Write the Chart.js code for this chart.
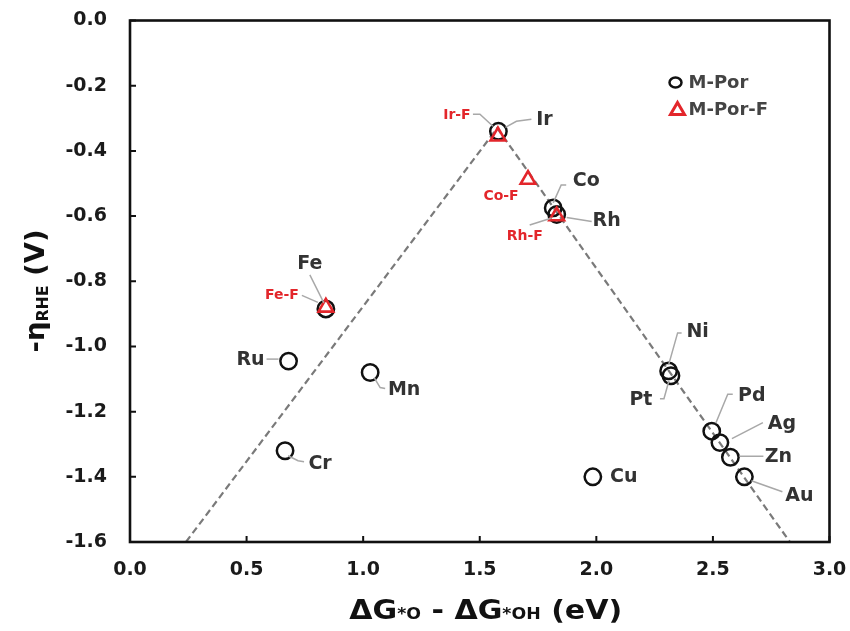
<!DOCTYPE html>
<html>
<head>
<meta charset="utf-8">
<script src="https://cdn.jsdelivr.net/npm/chart.js@4.4.1/dist/chart.umd.min.js"></script>
<style>
  html, body { margin: 0; padding: 0; background: #fff; }
  canvas { display: block; }
</style>
</head>
<body>
<canvas id="chart" width="850" height="631"></canvas>
<script>
// M-Por (open circles)
const porNames = ["Ir", "Co", "Rh", "Fe", "Ru", "Mn", "Cr", "Cu", "Ni", "Pt", "Pd", "Ag", "Zn", "Au"];
const porX = [1.58, 1.815, 1.83, 0.84, 0.68, 1.03, 0.665, 1.985, 2.31, 2.32, 2.495, 2.53, 2.575, 2.635];
const porY = [-0.34, -0.575, -0.595, -0.885, -1.045, -1.08, -1.32, -1.40, -1.075, -1.09, -1.26, -1.295, -1.34, -1.40];

// M-Por-F (red triangles)
const fNames = ["Ir-F", "Co-F", "Rh-F", "Fe-F"];
const fX = [1.578, 1.707, 1.83, 0.84];
const fY = [-0.355, -0.488, -0.60, -0.88];

// volcano (dashed)
const volX = [0.24, 1.575, 2.83];
const volY = [-1.6, -0.33, -1.6];

const xTicks = [0, 0.5, 1.0, 1.5, 2.0, 2.5, 3.0];
const yTicks = [0, -0.2, -0.4, -0.6, -0.8, -1.0, -1.2, -1.4, -1.6];

const RED = "#e3262b";
const FONT = "'DejaVu Sans', 'Liberation Sans', Arial, sans-serif";

// label text offset (t) and leader polyline (l), in px from the marker
const labelPos = {
  "Ir":   { t: [46, -11], l: [[7, -4], [18, -10], [33, -12]] },
  "Co":   { t: [33, -27], l: [[13, -23], [8, -23], [0, -5]] },
  "Rh":   { t: [50, 7],   l: [[10, 3], [35, 7]] },
  "Fe":   { t: [-16, -45], l: [[-16, -34], [-2, -6]] },
  "Ru":   { t: [-38, -1], l: [[-22, -2], [-10, -2]] },
  "Mn":   { t: [34, 18],  l: [[4, 5], [10, 15], [15, 16]] },
  "Cr":   { t: [35, 13],  l: [[3, 5], [13, 10], [19, 11]] },
  "Cu":   { t: [31, 0] },
  "Ni":   { t: [29, -39], l: [[13, -38], [9, -38], [0, -6]] },
  "Pt":   { t: [-30, 24], l: [[-11, 23], [-7, 23], [-2, 5]] },
  "Pd":   { t: [40, -35], l: [[21, -37], [16, -37], [4, -8]] },
  "Ag":   { t: [62, -19], l: [[43, -20], [12, -4]] },
  "Zn":   { t: [48, 0],   l: [[33, -1], [9, -1]] },
  "Au":   { t: [55, 19],  l: [[38, 15], [7, 4]] },
  "Ir-F": { t: [-41, -21], l: [[-25, -22], [-18, -22], [-5, -10]] },
  "Co-F": { t: [-27, 17] },
  "Rh-F": { t: [-32, 20], l: [[-27, 9], [-5, 2]] },
  "Fe-F": { t: [-44, -12], l: [[-24, -12], [-8, -5]] }
};

const toPts = (xs, ys) => xs.map((v, i) => ({ x: v, y: ys[i] }));

// draws a run of text pieces of different sizes, centred at (cx, cy), stretched to width w
function drawRich(ctx, parts, cx, cy, w, rot) {
  ctx.save();
  let total = 0;
  parts.forEach(p => { ctx.font = p.f; p.w = ctx.measureText(p.s).width; total += p.w; });
  ctx.translate(cx, cy);
  if (rot) ctx.rotate(rot);
  ctx.scale(w / total, 1);
  ctx.textBaseline = "alphabetic";
  ctx.textAlign = "left";
  ctx.fillStyle = "#111";
  let x = -total / 2;
  parts.forEach(p => { ctx.font = p.f; ctx.fillText(p.s, x, p.dy || 0); x += p.w; });
  ctx.restore();
}

const annotations = {
  id: "annotations",
  afterDatasetsDraw(chart) {
    const { ctx, scales: { x, y } } = chart;
    const draw = (names, xs, ys, color, font) => {
      names.forEach((n, i) => {
        const px = x.getPixelForValue(xs[i]);
        const py = y.getPixelForValue(ys[i]);
        const p = labelPos[n];
        if (p.l) {
          ctx.strokeStyle = "#a8a8a8";
          ctx.lineWidth = 1.5;
          ctx.beginPath();
          p.l.forEach(([dx, dy], k) => k ? ctx.lineTo(px + dx, py + dy) : ctx.moveTo(px + dx, py + dy));
          ctx.stroke();
        }
        ctx.font = font;
        ctx.fillStyle = color;
        ctx.textAlign = "center";
        ctx.textBaseline = "middle";
        ctx.fillText(n, px + p.t[0], py + p.t[1]);
      });
    };
    ctx.save();
    draw(porNames, porX, porY, "#333", "bold 19px " + FONT);
    draw(fNames, fX, fY, RED, "bold 14px " + FONT);
    ctx.restore();
  },
  afterDraw(chart) {
    const { ctx, chartArea: a, scales: { x, y } } = chart;
    ctx.save();
    // frame + inward ticks
    ctx.strokeStyle = "#111";
    ctx.lineWidth = 2.6;
    ctx.strokeRect(a.left, a.top, a.right - a.left, a.bottom - a.top);
    ctx.lineWidth = 2;
    ctx.beginPath();
    xTicks.forEach(v => { const px = x.getPixelForValue(v); ctx.moveTo(px, a.bottom); ctx.lineTo(px, a.bottom - 6); });
    yTicks.forEach(v => { const py = y.getPixelForValue(v); ctx.moveTo(a.left, py); ctx.lineTo(a.left + 6, py); });
    ctx.stroke();

    // legend
    const lx = a.right - 154, ly = a.top + 62;
    ctx.strokeStyle = "#111";
    ctx.lineWidth = 2.5;
    ctx.beginPath();
    ctx.ellipse(lx, ly, 6, 5, 0, 0, Math.PI * 2);
    ctx.stroke();
    ctx.strokeStyle = RED;
    ctx.lineWidth = 3;
    ctx.beginPath();
    ctx.moveTo(lx + 2, ly + 20);
    ctx.lineTo(lx + 9, ly + 32);
    ctx.lineTo(lx - 5, ly + 32);
    ctx.closePath();
    ctx.stroke();
    ctx.fillStyle = "#444";
    ctx.font = "bold 18px " + FONT;
    ctx.textAlign = "left";
    ctx.textBaseline = "middle";
    ctx.fillText(chart.data.datasets[1].label, lx + 13, ly + 1);
    ctx.fillText(chart.data.datasets[0].label, lx + 13, ly + 28);
    ctx.restore();

    // axis titles
    const big = "bold 26px " + FONT, small = "bold 15px " + FONT;
    drawRich(ctx, [
      { s: "ΔG", f: big }, { s: "*O", f: small }, { s: " - ", f: big },
      { s: "ΔG", f: big }, { s: "*OH", f: small }, { s: " (eV)", f: big }
    ], (a.left + a.right) / 2 + 6, 619, 273, 0);
    drawRich(ctx, [
      { s: "-η", f: big }, { s: "RHE", f: small, dy: 4 }, { s: " (V)", f: big }
    ], 44, 291, 123, -Math.PI / 2);
  }
};

new Chart(document.getElementById("chart"), {
  type: "scatter",
  data: {
    datasets: [
      {
        label: "M-Por-F",
        data: toPts(fX, fY),
        pointStyle: "triangle",
        pointRadius: 8.5,
        borderColor: RED,
        borderWidth: 2.6,
        backgroundColor: "rgba(0,0,0,0)",
        order: 0
      },
      {
        label: "M-Por",
        data: toPts(porX, porY),
        pointStyle: "circle",
        pointRadius: 8.2,
        borderColor: "#111",
        borderWidth: 2.5,
        backgroundColor: "rgba(0,0,0,0)",
        order: 1
      },
      {
        label: "volcano",
        type: "line",
        data: toPts(volX, volY),
        borderColor: "#7a7a7a",
        borderWidth: 2.2,
        borderDash: [7, 4],
        pointRadius: 0,
        fill: false,
        order: 2
      }
    ]
  },
  options: {
    responsive: false,
    animation: false,
    devicePixelRatio: 1,
    layout: { padding: { top: 20.5, right: 20.5, left: 0, bottom: 0 } },
    plugins: { legend: { display: false }, tooltip: { enabled: false } },
    scales: {
      x: {
        type: "linear",
        min: 0,
        max: 3,
        afterBuildTicks: s => { s.ticks = xTicks.map(v => ({ value: v })); },
        afterFit: s => { s.height = 89; s.paddingLeft = 0; s.paddingRight = 0; },
        ticks: {
          callback: v => v.toFixed(1),
          font: { family: FONT, size: 19, weight: "bold" },
          color: "#1a1a1a",
          padding: 17,
          maxRotation: 0
        },
        grid: { display: false, drawTicks: false },
        border: { display: false }
      },
      y: {
        min: -1.6,
        max: 0,
        afterBuildTicks: s => { s.ticks = yTicks.map(v => ({ value: v })); },
        afterFit: s => { s.width = 130; s.paddingTop = 0; s.paddingBottom = 0; },
        ticks: {
          callback: v => v.toFixed(1),
          font: { family: FONT, size: 19, weight: "bold" },
          color: "#1a1a1a",
          padding: 23
        },
        grid: { display: false, drawTicks: false },
        border: { display: false }
      }
    }
  },
  plugins: [annotations]
});
</script>
</body>
</html>
